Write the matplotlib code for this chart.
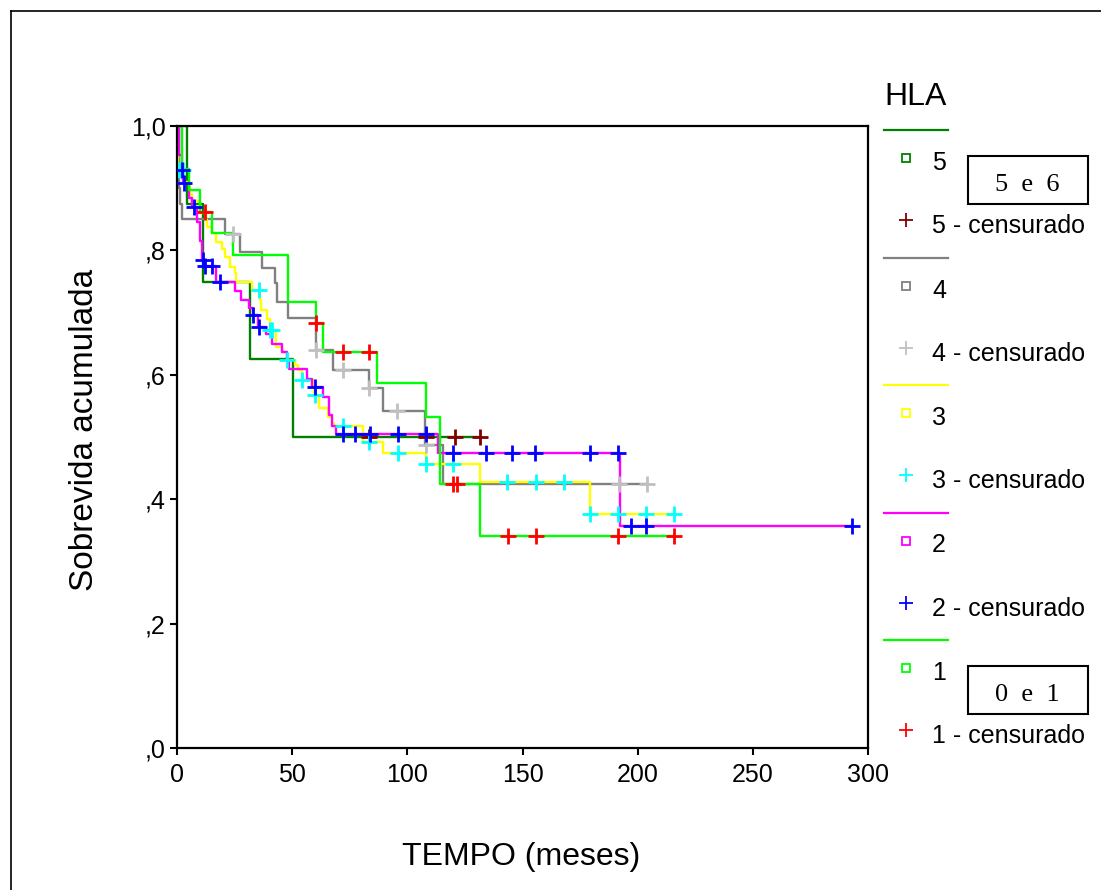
import numpy as np
import matplotlib
matplotlib.use("Agg")
import matplotlib.pyplot as plt
from matplotlib.lines import Line2D
from matplotlib.patches import Rectangle

# grupos HLA e cores (curva / marca de censura)
grupos = ["5", "4", "3", "2", "1"]
cor_linha = ["#008000", "#808080", "#ffff00", "#ff00ff", "#00ff00"]
cor_cens = ["#800000", "#c0c0c0", "#00ffff", "#0000ff", "#ff0000"]
caixas = {"5": "5  e  6", "1": "0  e  1"}

# tempos (meses) onde a curva muda + sobrevida acumulada depois; ultimo = fim do seguimento
t5 = [0, 4.3, 11.4, 31.7, 50.5, 131.6]
s5 = [1.0, 0.875, 0.75, 0.625, 0.5, 0.5]
c5 = [83.5, 108.1, 120.5, 131.6]

t4 = [0, 1.0, 1.5, 2.0, 20.8, 27.4, 36.8, 42.5, 43.5, 48.3, 60.4, 67.9, 83.5, 89.6, 107.7, 115.7, 204]
s4 = [1.0, 0.9, 0.875, 0.85, 0.827, 0.798, 0.771, 0.747, 0.717, 0.692, 0.64, 0.608, 0.578, 0.541, 0.487, 0.425, 0.425]
c4 = [24.5, 60.4, 72.2, 83.5, 95.4, 108.1, 191.9, 204]

t3 = [0, 0.5, 3, 5.5, 6.5, 10, 12.5, 13, 15, 17, 19.5, 21, 23, 25, 25.8, 32.4, 35.9, 36.6, 39,
      40.4, 43, 45.5, 47.6, 51.2, 52.7, 54.1, 59.5, 61.5, 65.7, 67.2, 68, 80.9, 89.5, 108.1,
      131.6, 179.3, 215.8]
s3 = [1.0, 0.93, 0.91, 0.89, 0.88, 0.86, 0.849, 0.838, 0.828, 0.814, 0.803, 0.79, 0.774, 0.763,
      0.75, 0.736, 0.72, 0.704, 0.69, 0.672, 0.645, 0.637, 0.624, 0.616, 0.608, 0.592, 0.567,
      0.546, 0.532, 0.522, 0.517, 0.492, 0.475, 0.457, 0.428, 0.376, 0.376]
c3 = [0.7, 2.5, 35.7, 40.4, 41.1, 47.6, 54.1, 60, 72.2, 83.5, 95.8, 108.1, 120, 143.4, 155.7,
      168, 179.3, 191.4, 203.5, 215.8]

t2 = [0, 1.0, 2.0, 2.6, 5.0, 6.5, 8.5, 9.8, 10.7, 12.0, 17.0, 25.0, 28.0, 31.3, 33.0, 35.0,
      38.5, 41.3, 45.6, 47.7, 48.5, 56.5, 58.5, 63.5, 66.0, 67.4, 69.0, 113.2, 192.4, 293]
s2 = [1.0, 0.953, 0.93, 0.908, 0.885, 0.869, 0.846, 0.815, 0.785, 0.775, 0.75, 0.734, 0.72,
      0.707, 0.696, 0.677, 0.665, 0.65, 0.637, 0.624, 0.61, 0.594, 0.581, 0.565, 0.535, 0.518,
      0.505, 0.475, 0.357, 0.357]
c2 = [2.2, 2.9, 7.2, 11.4, 12.2, 15, 18.7, 33.1, 35.7, 60, 72.2, 77.3, 83.8, 95.8, 108.1, 120,
      134, 145.3, 155.4, 179.3, 191.4, 197, 203.5, 293]

t1 = [0, 2, 5, 10, 15, 24.5, 48, 60.4, 63.4, 86.7, 108, 114.2, 131.6, 215.8]
s1 = [1.0, 0.931, 0.897, 0.862, 0.828, 0.793, 0.717, 0.683, 0.637, 0.587, 0.532, 0.424, 0.341, 0.341]
c1 = [12.3, 60.4, 72, 83.4, 120, 121.5, 143.6, 155.7, 191.4, 215.8]

tempos = [t5, t4, t3, t2, t1]
sobrev = [s5, s4, s3, s2, s1]
censura = [c5, c4, c3, c2, c1]

xticks = [0, 50, 100, 150, 200, 250, 300]
yticks = [0.0, 0.2, 0.4, 0.6, 0.8, 1.0]
ytick_labels = [",0", ",2", ",4", ",6", ",8", "1,0"]

plt.rcParams["font.family"] = ["Liberation Sans", "DejaVu Sans"]

W, H = 1101, 890
fig = plt.figure(figsize=(W / 100, H / 100), dpi=100)
ax = fig.add_axes([177 / W, 1 - 748 / H, 691 / W, 622 / H])


def fx(x):
    return x / W


def fy(y):
    return 1 - y / H


for t, s, c, cl, cc in zip(tempos, sobrev, censura, cor_linha, cor_cens):
    t = np.array(t)
    s = np.array(s)
    ax.step(t, s, where="post", color=cl, lw=1.7, zorder=2)
    idx = np.searchsorted(t, c, side="right") - 1
    ax.plot(c, s[idx], ls="none", marker="+", ms=11, mew=2, color=cc, zorder=3)

ax.set_xlim(0, 300)
ax.set_ylim(0, 1.0)
ax.set_xticks(xticks)
ax.set_xticklabels([str(v) for v in xticks])
ax.set_yticks(yticks)
ax.set_yticklabels(ytick_labels)
ax.tick_params(direction="out", length=5, width=1.5, labelsize=18, colors="black")
ax.tick_params(axis="y", pad=3)
ax.tick_params(axis="x", pad=6)
for sp in ax.spines.values():
    sp.set_linewidth(1.6)

ax.set_xlabel("TEMPO (meses)", fontsize=23)
ax.xaxis.set_label_coords(0.4986, (748 - 857) / 622)
ax.xaxis.label.set_va("center")
ax.set_ylabel("Sobrevida acumulada", fontsize=24)
ax.yaxis.set_label_coords((85 - 177) / 691, (748 - 430) / 622)
ax.yaxis.label.set_va("center")

# moldura da figura
fig.add_artist(Line2D([fx(11), 1], [fy(11), fy(11)], color="black", lw=1.2))
fig.add_artist(Line2D([fx(11), fx(11)], [fy(11), 0], color="black", lw=1.2))

# legenda desenhada à mão (como no SPSS)
fig.text(fx(884), fy(97), "HLA", fontsize=23, ha="left", va="center")
for i, g in enumerate(grupos):
    y0 = 130 + 127.5 * i
    fig.add_artist(Line2D([fx(884), fx(948)], [fy(y0), fy(y0)], color=cor_linha[i], lw=1.6))
    fig.add_artist(Line2D([fx(906)], [fy(y0 + 28)], ls="none", marker="s", ms=6,
                          mfc="white", mec=cor_linha[i], mew=1.3))
    fig.text(fx(932), fy(y0 + 33), g, fontsize=18, ha="left", va="center")
    fig.add_artist(Line2D([fx(906)], [fy(y0 + 90)], ls="none", marker="+", ms=10,
                          mew=1.3, color=cor_cens[i]))
    fig.text(fx(932), fy(y0 + 96), g + " - censurado", fontsize=18, ha="left", va="center")
    if g in caixas:
        yb = y0 + 26
        fig.add_artist(Rectangle((fx(968), fy(yb + 48)), fx(120), 48 / H, fill=False,
                                 ec="black", lw=1.5))
        fig.text(fx(1027), fy(yb + 29), caixas[g], fontsize=19, ha="center", va="center",
                 family=["Liberation Serif", "DejaVu Serif"])

fig.savefig("out.png", dpi=100)
